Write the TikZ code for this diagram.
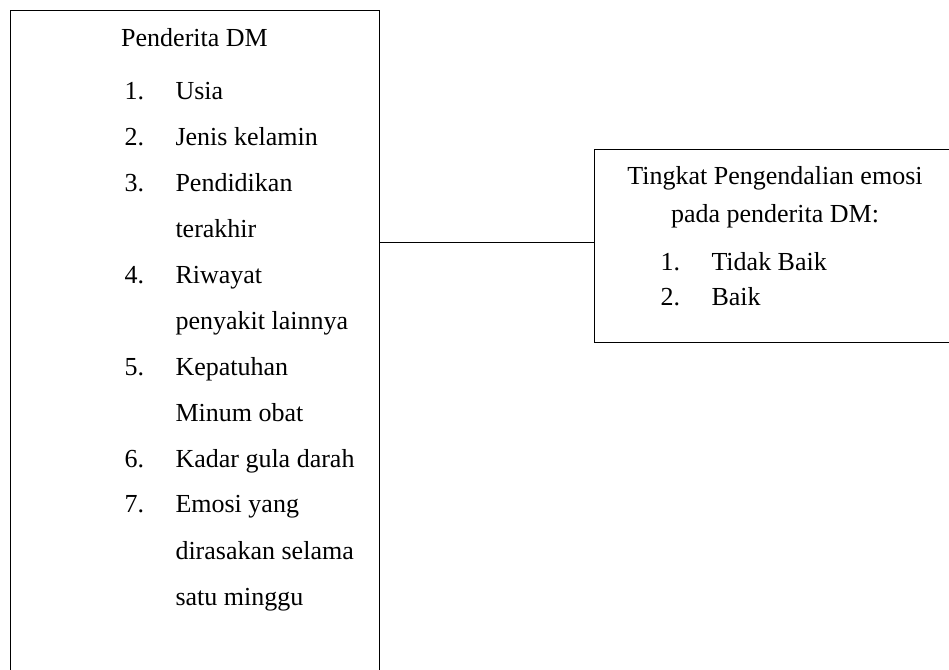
\documentclass[tikz,border=0pt]{standalone}
\usepackage{fontspec}
\setmainfont{Liberation Serif}
\usetikzlibrary{positioning}

\tikzset{every picture/.style={line width=0.75pt}}
\tikzset{
  kotak/.style={draw, rectangle, inner sep=0pt},
  teks/.style={anchor=base west, inner sep=0pt, font=\fontsize{19.5}{23}\selectfont},
  judul/.style={anchor=base, inner sep=0pt, font=\fontsize{19.5}{23}\selectfont}
}

\begin{document}
\begin{tikzpicture}[x=0.75pt,y=0.75pt,yscale=-1,xscale=1]
\useasboundingbox (0,0) rectangle (949,669);

%Kotak kiri: variabel penderita
\node [kotak, minimum width=276.75pt, minimum height=510pt] (pasien) at (194.5,350) {};
%Kotak kanan: tingkat pengendalian emosi
\node [kotak, minimum width=274.5pt, minimum height=144.75pt] (kontrol) at (777,245.5) {};
%Garis penghubung
\coordinate (hub) at (594,242);
\draw (pasien.east |- hub) -- (hub);

% Judul kotak kiri
\node [judul] (jdl1) at (194.5,46) {Penderita DM};
% Daftar kotak kiri
\node [teks] (n1) at (124,99) {1.};
\node [teks] (t1) at (175,99) {Usia};
\node [teks] (n2) at (124,145) {2.};
\node [teks] (t2) at (175,145) {Jenis kelamin};
\node [teks] (n3) at (124,191) {3.};
\node [teks] (t3) at (175,191) {Pendidikan};
\node [teks] (t3b) at (175,237) {terakhir};
\node [teks] (n4) at (124,283) {4.};
\node [teks] (t4) at (175,283) {Riwayat};
\node [teks] (t4b) at (175,329) {penyakit lainnya};
\node [teks] (n5) at (124,375) {5.};
\node [teks] (t5) at (175,375) {Kepatuhan};
\node [teks] (t5b) at (175,421) {Minum obat};
\node [teks] (n6) at (124,467) {6.};
\node [teks] (t6) at (175,467) {Kadar gula darah};
\node [teks] (n7) at (124,512) {7.};
\node [teks] (t7) at (175,512) {Emosi yang};
\node [teks] (t7b) at (175,559) {dirasakan selama};
\node [teks] (t7c) at (175,605) {satu minggu};

% Judul kotak kanan
\node [judul] (jdl2) at (775,184) {Tingkat Pengendalian emosi};
\node [judul] (jdl2b) at (775,222) {pada penderita DM:};
% Daftar kotak kanan
\node [teks] (m1) at (660,270) {1.};
\node [teks] (s1) at (711,270) {Tidak Baik};
\node [teks] (m2) at (660,305) {2.};
\node [teks] (s2) at (711,305) {Baik};

\end{tikzpicture}
\end{document}
